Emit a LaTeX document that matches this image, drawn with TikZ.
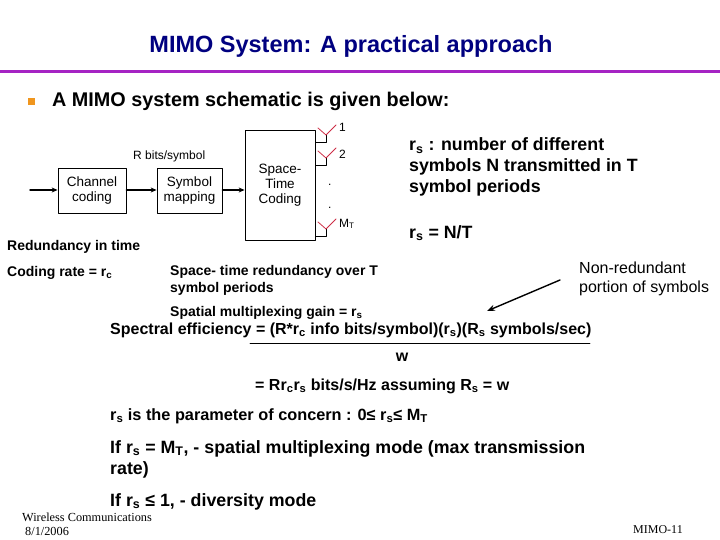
\documentclass[tikz,border=0pt]{standalone}
\usepackage{fontspec}
\setmainfont{Liberation Sans}
\newfontfamily\footfont{Liberation Serif}
\usetikzlibrary{arrows.meta}

\definecolor{titleblue}{RGB}{0,0,128}
\definecolor{rulepurple}{RGB}{165,35,195}
\definecolor{bulletorange}{RGB}{240,150,30}
\definecolor{antred}{RGB}{205,45,70}

\begin{document}
\begin{tikzpicture}[x=1pt,y=-1pt,>={Stealth[length=6pt,width=5pt]},line cap=round,line join=round,
  blk/.style={draw,line width=0.8pt,inner sep=0pt,align=center,font=\fontsize{13.5}{15}\selectfont},
  flow/.style={->,line width=1.4pt},
  feed/.style={line width=0.8pt},
  ant/.style={line width=0.8pt,draw=antred},
  txt/.style={anchor=base west,inner sep=0pt,align=left},
  bigb/.style={txt,font=\fontsize{17.8}{21}\bfseries\selectfont},
  smallb/.style={txt,font=\fontsize{14}{17}\bfseries\selectfont},
  plain/.style={txt,font=\fontsize{12}{14}\selectfont}]
\useasboundingbox (0,0) rectangle (720,540);
% heading
\node[anchor=base,inner sep=0pt,text=titleblue,font=\fontsize{23.5}{26}\bfseries\selectfont] (title) at (351,53) {MIMO System: A practical approach};
\coordinate (ruleL) at (0,72);
\coordinate (ruleR) at (720,72);
\draw[rulepurple,line width=3pt,line cap=butt] (ruleL) -- (ruleR);
\node[fill=bulletorange,minimum size=7pt,inner sep=0pt] (bul) at (31,102) {};
\node[bigb,font=\fontsize{19.8}{22}\bfseries\selectfont] (intro) at (52,107) {A MIMO system schematic is given below:};
% blocks
\coordinate (in) at (30,190);
\node[blk,minimum width=68pt,minimum height=45pt] (cc) at (92,190.5) {Channel\\coding};
\node[blk,minimum width=65pt,minimum height=45pt] (sm) at (189.5,190.5) {Symbol\\mapping};
\node[blk,minimum width=70pt,minimum height=110pt] (stc) at (280,185) {Space-\\Time\\Coding};
\draw[flow] (in) -- (cc.west |- in);
\draw[flow] (cc.east |- in) -- (sm.west |- in);
\draw[flow] (sm.east |- in) -- (stc.west |- in);
\node[plain] (rbits) at (133,160) {R bits/symbol};
% antennas
\coordinate (a1) at (326,142);
\coordinate (a2) at (326,165);
\coordinate (a3) at (326,236);
\draw[feed] (stc.east |- a1) -- (a1) -- ++(0,-7) coordinate (j1);
\draw[ant] (j1) -- ++(-8,-7) (j1) -- ++(10,-10);
\draw[feed] (stc.east |- a2) -- (a2) -- ++(0,-7) coordinate (j2);
\draw[ant] (j2) -- ++(-8,-7) (j2) -- ++(10,-10);
\draw[feed] (stc.east |- a3) -- (a3) -- ++(0,-7) coordinate (j3);
\draw[ant] (j3) -- ++(-8,-7) (j3) -- ++(10,-10);
\node[plain] (n1) at (339,132) {1};
\node[plain] (n2) at (339,159) {2};
\node[plain] (dot1) at (328,186) {.};
\node[plain] (dot2) at (328,208) {.};
\node[plain] (nM) at (339,227) {M\textsubscript{T}};
% notes round the schematic
\node[smallb] (red) at (7,250) {Redundancy in time};
\node[smallb] (crate) at (7,276) {Coding rate = r\textsubscript{c}};
\node[smallb] (stred) at (170,292) {Space- time redundancy over T\\symbol periods};
\node[bigb] (rsdef) at (409,193) {r\textsubscript{s} : number of different\\symbols N transmitted in T\\symbol periods};
\node[bigb] (rsnt) at (409,238) {r\textsubscript{s} = N/T};
\node[plain,font=\fontsize{16}{19}\selectfont] (nonred) at (579,292) {Non-redundant\\portion of symbols};
\coordinate (tail) at (560,280);
\coordinate (pt) at (487,311);
\draw[-{Stealth[length=8pt,width=6pt]},line width=1.4pt] (tail) -- (pt);
\node[smallb] (smg) at (170,316) {Spatial multiplexing gain = r\textsubscript{s}};
% spectral efficiency
\node[bigb,font=\fontsize{16}{20}\bfseries\selectfont] (se) at (110,334) {Spectral efficiency = (R*r\textsubscript{c} info bits/symbol)(r\textsubscript{s})(R\textsubscript{s} symbols/sec)};
\coordinate (fracL) at (250,343);
\coordinate (fracR) at (590,343);
\draw[line width=0.8pt] (fracL) -- (fracR);
\node[bigb,font=\fontsize{16}{18}\bfseries\selectfont,anchor=base] (w) at (402,361) {w};
\node[bigb,font=\fontsize{16}{18}\bfseries\selectfont] (eq) at (255,390) {= Rr\textsubscript{c}r\textsubscript{s} bits/s/Hz assuming R\textsubscript{s} = w};
\node[bigb,font=\fontsize{16.3}{18}\bfseries\selectfont] (param) at (110,420) {r\textsubscript{s} is the parameter of concern : 0≤ r\textsubscript{s}≤ M\textsubscript{T}};
\node[bigb] (mux) at (110,474) {If r\textsubscript{s} = M\textsubscript{T}, - spatial multiplexing mode (max transmission\\rate)};
\node[bigb] (div) at (110,506) {If r\textsubscript{s} ≤ 1, - diversity mode};
% footer
\node[txt,font=\footfont\fontsize{12.3}{14}\selectfont] (foot) at (22,521) {Wireless Communications};
\node[txt,font=\footfont\fontsize{12.3}{14}\selectfont] (date) at (25,535) {8/1/2006};
\node[txt,font=\footfont\fontsize{12}{14}\selectfont] (page) at (633,533) {MIMO-11};
\end{tikzpicture}
\end{document}
